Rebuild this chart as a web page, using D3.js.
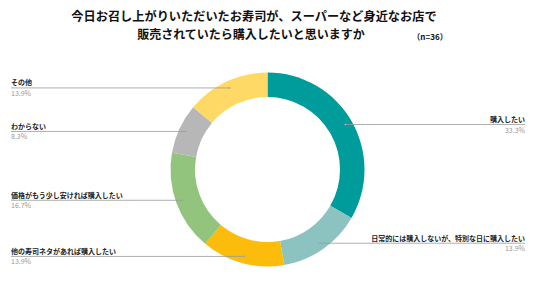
<!DOCTYPE html>
<html>
<head>
<meta charset="utf-8">
<script src="https://cdn.jsdelivr.net/npm/d3@7"></script>
<style>
  body { margin: 0; background: #fff; }
  text { font-family: "Noto Sans CJK JP", "Noto Sans", sans-serif; }
</style>
</head>
<body>
<div id="chart"></div>
<script>
// answer categories, clockwise from 12 o'clock
let categories = [
    "購入したい",
    "日常的には購入しないが、特別な日に購入したい",
    "他の寿司ネタがあれば購入したい",
    "価格がもう少し安ければ購入したい",
    "わからない",
    "その他"
];
let counts = [12, 5, 5, 6, 3, 5];
let percentLabels = ["33.3%", "13.9%", "13.9%", "16.7%", "8.3%", "13.9%"];
let colors = ["#009b9b", "#8cc3c0", "#fbbc0b", "#93c47d", "#b7b7b7", "#ffd966"];

let titleLines = [
    "今日お召し上がりいただいたお寿司が、スーパーなど身近なお店で",
    "販売されていたら購入したいと思いますか"
];
let sampleNote = "（n=36）";

let w = 536, h = 302;
let cx = 267.5, cy = 169.5;
let outerR = 97, innerR = 72.5, anchorR = 90;

let svg = d3.select("#chart")
    .append("svg")
    .attr("width", w)
    .attr("height", h);

// title
svg.append("text")
    .attr("x", 254).attr("y", 20.5)
    .attr("text-anchor", "middle")
    .attr("font-size", "12.2px")
    .attr("font-weight", "bold")
    .attr("fill", "#111")
    .text(titleLines[0]);
svg.append("text")
    .attr("x", 251).attr("y", 38.5)
    .attr("text-anchor", "middle")
    .attr("font-size", "12px")
    .attr("font-weight", "bold")
    .attr("fill", "#111")
    .text(titleLines[1]);
svg.append("text")
    .attr("x", 430).attr("y", 40)
    .attr("text-anchor", "middle")
    .attr("font-size", "8px")
    .attr("font-weight", "bold")
    .attr("fill", "#111")
    .text(sampleNote);

let pie = d3.pie().sort(null).value(d => d);
let arcs = pie(counts);

let arc = d3.arc().innerRadius(innerR).outerRadius(outerR);

let g = svg.append("g")
    .attr("transform", `translate(${cx}, ${cy})`);

g.selectAll("path")
    .data(arcs)
    .enter()
    .append("path")
    .attr("d", arc)
    .attr("fill", (d, i) => colors[i]);

// leader lines and labels
arcs.forEach(function(d, i) {
    let a = (d.startAngle + d.endAngle) / 2;
    let ax = cx + anchorR * Math.sin(a);
    let ay = cy - anchorR * Math.cos(a);
    let right = ax > cx;
    let tx = right ? 525 : 11;

    svg.append("line")
        .attr("x1", ax).attr("y1", ay)
        .attr("x2", tx).attr("y2", ay)
        .attr("stroke", "#9a9a9a")
        .attr("stroke-width", 0.8);
    svg.append("circle")
        .attr("cx", ax).attr("cy", ay)
        .attr("r", 1)
        .attr("fill", "#aaa");

    svg.append("text")
        .attr("x", tx).attr("y", ay - 2.5)
        .attr("text-anchor", right ? "end" : "start")
        .attr("font-size", "7px")
        .attr("font-weight", "bold")
        .attr("fill", "#222")
        .text(categories[i]);
    svg.append("text")
        .attr("x", tx).attr("y", ay + 8)
        .attr("text-anchor", right ? "end" : "start")
        .attr("font-size", "7px")
        .attr("fill", "#999")
        .text(percentLabels[i]);
});
</script>
</body>
</html>
